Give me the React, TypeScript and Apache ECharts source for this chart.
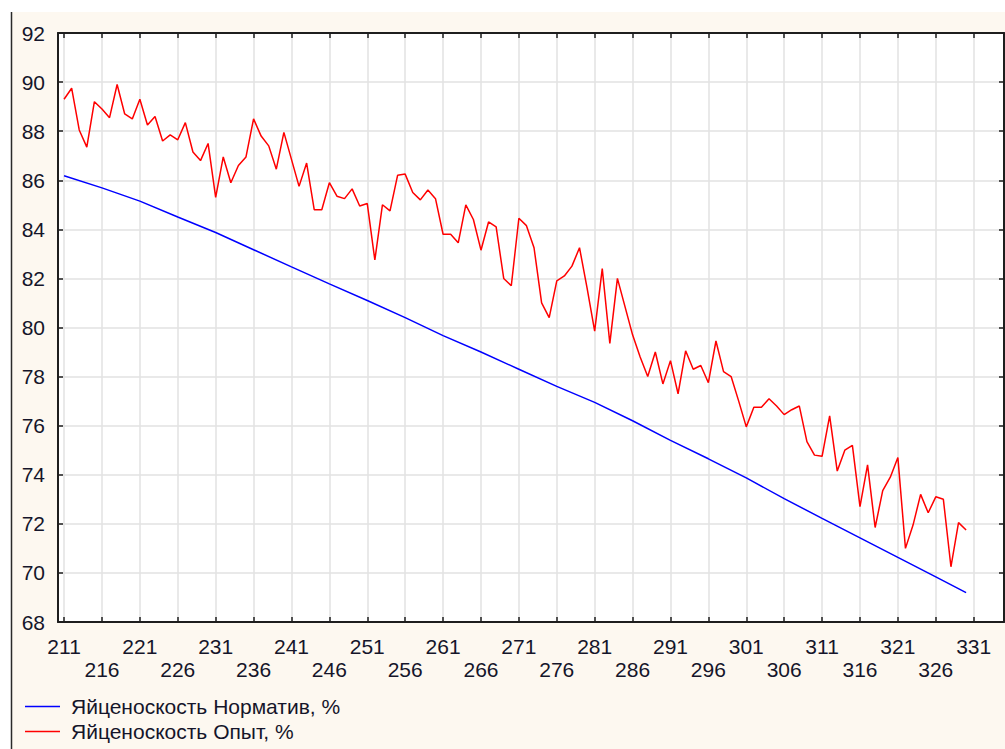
import React, { useEffect, useRef } from 'react';
import * as echarts from 'echarts';

// Day of the experiment for the first "Опыт" value; one value per day follows.
const START_DAY = 211;

const opytValues = [
  89.3, 89.75, 88.05, 87.35, 89.2, 88.9, 88.55, 89.9, 88.7, 88.5,
  89.3, 88.25, 88.6, 87.6, 87.85, 87.65, 88.35, 87.15, 86.8, 87.5,
  85.3, 86.95, 85.9, 86.6, 86.95, 88.5, 87.8, 87.4, 86.45, 87.95,
  86.85, 85.75, 86.7, 84.8, 84.8, 85.9, 85.35, 85.25, 85.65, 84.95,
  85.05, 82.75, 85.0, 84.75, 86.2, 86.25, 85.5, 85.2, 85.6, 85.25,
  83.8, 83.8, 83.45, 85.0, 84.4, 83.15, 84.3, 84.1, 82.0, 81.7,
  84.45, 84.15, 83.25, 81.0, 80.4, 81.9, 82.1, 82.5, 83.25, 81.6,
  79.85, 82.4, 79.35, 82.0, 80.85, 79.7, 78.8, 78.0, 79.0, 77.7,
  78.65, 77.3, 79.05, 78.3, 78.45, 77.75, 79.45, 78.2, 78.0, 77.0,
  75.95, 76.75, 76.75, 77.1, 76.8, 76.45, 76.65, 76.8, 75.35, 74.8,
  74.75, 76.4, 74.15, 75.0, 75.2, 72.7, 74.4, 71.85, 73.35, 73.9,
  74.7, 71.0, 71.95, 73.2, 72.45, 73.1, 73.0, 70.25, 72.05, 71.75,
];

const normDays = [
  211, 216, 221, 226, 231, 236, 241, 246, 251, 256, 261, 266, 271,
  276, 281, 286, 291, 296, 301, 306, 311, 316, 321, 326, 330,
];
const normValues = [
  86.18, 85.69, 85.15, 84.5, 83.87, 83.17, 82.47, 81.78, 81.1, 80.4, 79.67, 79.0, 78.3,
  77.6, 76.95, 76.2, 75.4, 74.65, 73.87, 73.03, 72.22, 71.43, 70.63, 69.84, 69.2,
];

const xTickValues = [
  211, 216, 221, 226, 231, 236, 241, 246, 251, 256, 261, 266, 271,
  276, 281, 286, 291, 296, 301, 306, 311, 316, 321, 326, 331,
];

const seriesNames = ['Яйценоскость Норматив, %', 'Яйценоскость Опыт, %'];
const seriesColors = ['#0000ff', '#ff0000'];

const X_MIN = 210.2;
const X_MAX = 335;
const Y_MIN = 68;
const Y_MAX = 92;
const Y_STEP = 2;

export default function App() {
  const ref = useRef<HTMLDivElement>(null);

  useEffect(() => {
    if (!ref.current) return;
    const chart = echarts.init(ref.current, null, { renderer: 'svg' });
    const font = '"Liberation Sans", Arial, sans-serif';
    const textColor = '#15152a';
    const frameColor = '#1e1e1e';
    const gridColor = '#e2e2e2';
    const fontSize = 21;

    const opytData = opytValues.map((v, i) => [START_DAY + i, v]);
    const normData = normDays.map((d, i) => [d, normValues[i]]);

    const xCommon = {
      type: 'value',
      min: X_MIN,
      max: X_MAX,
      axisLine: { show: true, onZero: false, lineStyle: { color: frameColor, width: 2 } },
      axisTick: {
        show: true,
        inside: true,
        length: 5,
        customValues: xTickValues,
        lineStyle: { color: frameColor, width: 1.5 },
      },
    };
    const yCommon = {
      type: 'value',
      min: Y_MIN,
      max: Y_MAX,
      interval: Y_STEP,
      axisLine: { show: true, onZero: false, lineStyle: { color: frameColor, width: 2 } },
      axisTick: { show: true, inside: true, length: 5, lineStyle: { color: frameColor, width: 1.5 } },
    };

    chart.setOption({
      animation: false,
      backgroundColor: '#fdf8f0',
      textStyle: { fontFamily: font },
      graphic: [
        { type: 'rect', shape: { x: 0, y: 0, width: 1005, height: 12 }, style: { fill: '#ffffff' }, silent: true },
        { type: 'rect', shape: { x: 0, y: 0, width: 11, height: 749 }, style: { fill: '#ffffff' }, silent: true },
        {
          type: 'line',
          shape: { x1: 11.5, y1: 12, x2: 11.5, y2: 749 },
          style: { stroke: '#2a2a2a', lineWidth: 1.5 },
          silent: true,
        },
      ],
      grid: {
        left: 58,
        right: 1,
        top: 33,
        bottom: 127,
        show: true,
        backgroundColor: '#ffffff',
        borderWidth: 0,
        containLabel: false,
      },
      xAxis: [
        {
          ...xCommon,
          position: 'bottom',
          axisLabel: {
            show: true,
            customValues: xTickValues,
            fontSize,
            fontFamily: font,
            color: textColor,
            margin: 13,
            lineHeight: 23,
            formatter: (v: number) => (Math.round((v - xTickValues[0]) / 5) % 2 === 1 ? '\n' + v : String(v)),
          },
          splitLine: { show: true, lineStyle: { color: gridColor, width: 1.5 } },
        },
        {
          ...xCommon,
          position: 'top',
          axisLabel: { show: false },
          splitLine: { show: false },
        },
      ],
      yAxis: [
        {
          ...yCommon,
          position: 'left',
          axisLabel: { show: true, fontSize, fontFamily: font, color: textColor, margin: 13 },
          splitLine: { show: true, lineStyle: { color: gridColor, width: 1.5 } },
        },
        {
          ...yCommon,
          position: 'right',
          axisLabel: { show: false },
          splitLine: { show: false },
        },
      ],
      legend: {
        orient: 'vertical',
        left: 25,
        top: 694,
        height: 60,
        padding: 0,
        icon: 'rect',
        itemWidth: 35,
        itemHeight: 1.5,
        itemGap: 0,
        data: seriesNames,
        textStyle: { fontSize, fontFamily: font, color: textColor, lineHeight: 25, padding: [0, 0, 0, 6] },
      },
      series: [
        {
          name: seriesNames[0],
          type: 'line',
          xAxisIndex: 0,
          yAxisIndex: 0,
          data: normData,
          symbol: 'none',
          color: seriesColors[0],
          lineStyle: { color: seriesColors[0], width: 1.5 },
          z: 3,
        },
        {
          name: seriesNames[1],
          type: 'line',
          xAxisIndex: 0,
          yAxisIndex: 0,
          data: opytData,
          symbol: 'none',
          color: seriesColors[1],
          lineStyle: { color: seriesColors[1], width: 1.5 },
          z: 4,
        },
      ],
    });

    return () => chart.dispose();
  }, []);

  return (
    <div
      ref={ref}
      style={{ position: 'fixed', left: 0, top: 0, width: 1005, height: 749 }}
    />
  );
}
